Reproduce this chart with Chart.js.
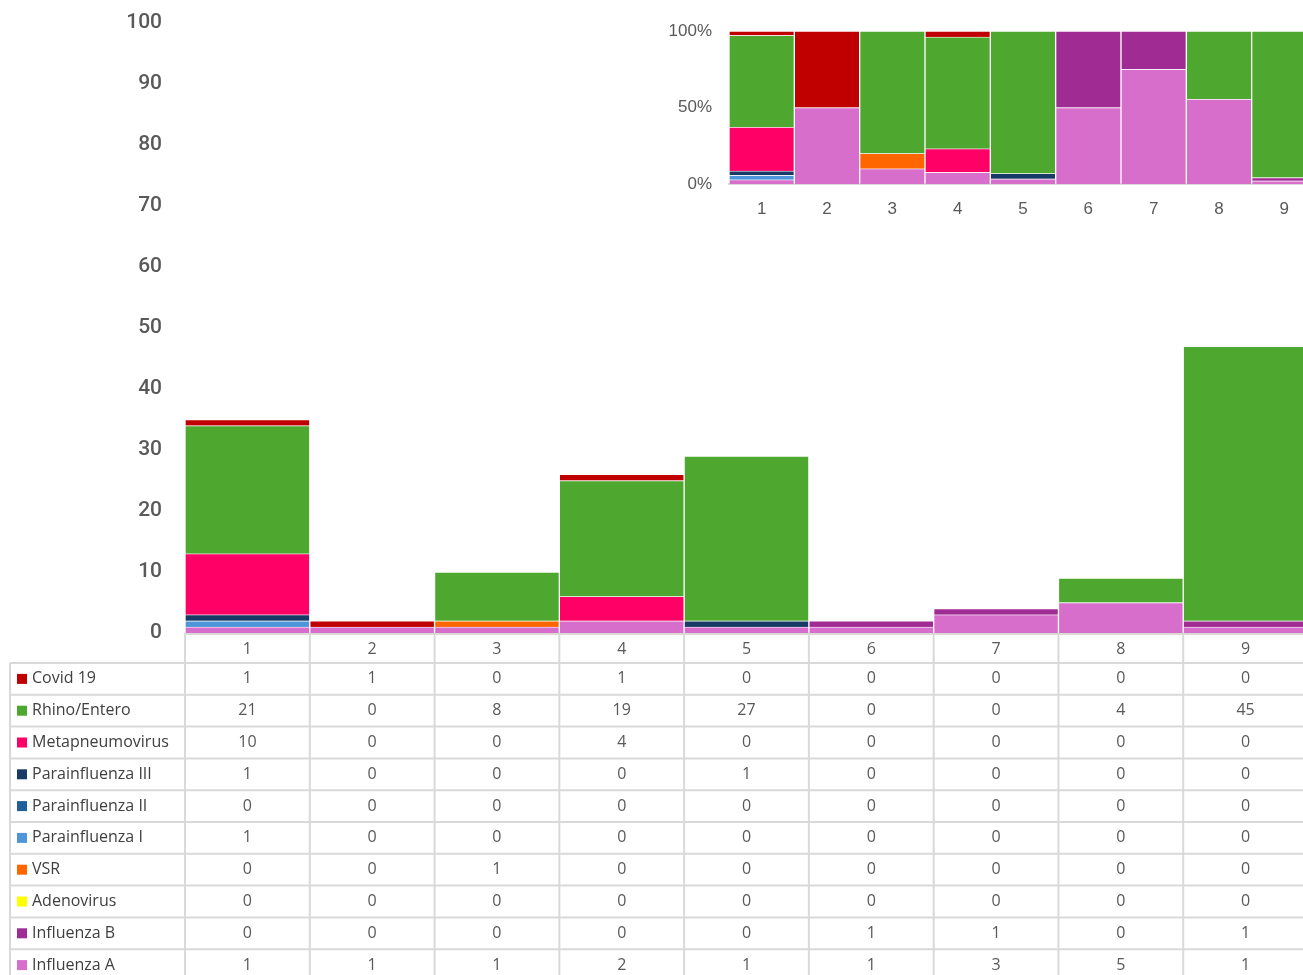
<!DOCTYPE html>
<html>
<head>
<meta charset="utf-8">
<script src="https://cdn.jsdelivr.net/npm/chart.js@4.4.1/dist/chart.umd.min.js"></script>
<style>
  body { margin: 0; background: #fff; }
  #wrap { position: relative; width: 1303px; height: 975px; overflow: hidden; }
  #principal { position: absolute; left: 0; top: 0; }
  #inset { position: absolute; left: 650px; top: 0; }
</style>
</head>
<body>
<div id="wrap">
  <canvas id="principal" width="1308" height="975"></canvas>
  <canvas id="inset" width="667" height="230"></canvas>
</div>
<script>
// categorias (semanas)
const categorias = ['1', '2', '3', '4', '5', '6', '7', '8', '9'];

// series, de abajo hacia arriba en la pila
const influenzaA       = [1, 1, 1, 2, 1, 1, 3, 5, 1];
const influenzaB       = [0, 0, 0, 0, 0, 1, 1, 0, 1];
const adenovirus       = [0, 0, 0, 0, 0, 0, 0, 0, 0];
const vsr              = [0, 0, 1, 0, 0, 0, 0, 0, 0];
const parainfluenzaI   = [1, 0, 0, 0, 0, 0, 0, 0, 0];
const parainfluenzaII  = [0, 0, 0, 0, 0, 0, 0, 0, 0];
const parainfluenzaIII = [1, 0, 0, 0, 1, 0, 0, 0, 0];
const metapneumovirus  = [10, 0, 0, 4, 0, 0, 0, 0, 0];
const rhinoEntero      = [21, 0, 8, 19, 27, 0, 0, 4, 45];
const covid19          = [1, 1, 0, 1, 0, 0, 0, 0, 0];

const ticksY = [0, 10, 20, 30, 40, 50, 60, 70, 80, 90, 100];
const ticksPct = [0, 50, 100];

const series = [
    { label: 'Influenza A',       data: influenzaA,       color: '#D86ECC' },
    { label: 'Influenza B',       data: influenzaB,       color: '#A02B93' },
    { label: 'Adenovirus',        data: adenovirus,       color: '#FFFF00' },
    { label: 'VSR',               data: vsr,              color: '#FF6600' },
    { label: 'Parainfluenza I',   data: parainfluenzaI,   color: '#4E95D9' },
    { label: 'Parainfluenza II',  data: parainfluenzaII,  color: '#215F9A' },
    { label: 'Parainfluenza III', data: parainfluenzaIII, color: '#173B66' },
    { label: 'Metapneumovirus',   data: metapneumovirus,  color: '#FF0066' },
    { label: 'Rhino/Entero',      data: rhinoEntero,      color: '#4EA72E' },
    { label: 'Covid 19',          data: covid19,          color: '#C00000' }
];

const colorLinea = '#d9d9d9';
const colorTexto = '#595959';
const bordeBarra = 'rgba(255,255,255,0.35)';

// tabla de datos debajo del grafico principal
const tablaDatos = {
    id: 'tablaDatos',
    afterDraw(chart) {
        const ctx = chart.ctx;
        const area = chart.chartArea;
        const x = chart.scales.x;
        const anchoCol = (area.right - area.left) / categorias.length;
        const altoCab = 30;
        const altoFila = 31.8;
        const izq = 10;
        const yTabla = area.bottom + altoCab;
        const filas = series.slice().reverse();
        const fondo = chart.height;

        ctx.save();
        ctx.strokeStyle = colorLinea;
        ctx.lineWidth = 2;
        ctx.beginPath();
        // linea del eje
        ctx.moveTo(area.left, area.bottom + 1);
        ctx.lineTo(area.right, area.bottom + 1);
        // verticales de columnas
        for (let i = 0; i <= categorias.length; i++) {
            const xv = area.left + i * anchoCol;
            ctx.moveTo(xv, area.bottom);
            ctx.lineTo(xv, fondo);
        }
        ctx.moveTo(izq, yTabla);
        ctx.lineTo(izq, fondo);
        // horizontales
        for (let r = 0; r <= filas.length; r++) {
            const yh = yTabla + r * altoFila;
            ctx.moveTo(izq, yh);
            ctx.lineTo(area.right, yh);
        }
        ctx.stroke();

        ctx.textBaseline = 'middle';
        ctx.font = '16px "Open Sans", sans-serif';
        ctx.fillStyle = colorTexto;
        ctx.textAlign = 'center';
        categorias.forEach((c, i) => {
            ctx.fillText(c, x.getPixelForValue(i), area.bottom + altoCab / 2 + 1);
        });

        filas.forEach((s, r) => {
            const yc = yTabla + r * altoFila + altoFila / 2;
            ctx.fillStyle = s.color;
            ctx.fillRect(17, yc - 5, 10, 10);
            ctx.fillStyle = '#404040';
            ctx.textAlign = 'left';
            ctx.fillText(s.label, 32, yc);
            ctx.fillStyle = colorTexto;
            ctx.textAlign = 'center';
            s.data.forEach((v, i) => {
                ctx.fillText(String(v), x.getPixelForValue(i), yc);
            });
        });
        ctx.restore();
    }
};

new Chart(document.getElementById('principal'), {
    type: 'bar',
    data: {
        labels: categorias,
        datasets: series.map(s => ({
            label: s.label,
            data: s.data,
            backgroundColor: s.color,
            borderColor: bordeBarra,
            borderWidth: 1,
            barPercentage: 1,
            categoryPercentage: 1
        }))
    },
    options: {
        responsive: false,
        animation: false,
        layout: { padding: { top: 23, right: 0, bottom: 342, left: 0 } },
        plugins: { legend: { display: false }, tooltip: { enabled: false } },
        scales: {
            x: { stacked: true, display: false },
            y: {
                stacked: true,
                min: 0,
                max: 100,
                afterBuildTicks: scale => { scale.ticks = ticksY.map(v => ({ value: v })); },
                afterFit: scale => {
                    scale.width = 185;
                    scale.paddingTop = 0;
                    scale.paddingBottom = 0;
                },
                grid: { display: false, drawTicks: false },
                border: { display: false },
                ticks: {
                    padding: 23,
                    color: colorTexto,
                    font: { family: 'Roboto', size: 21, weight: '500' }
                }
            }
        }
    },
    plugins: [tablaDatos]
});

// grafico pequeño al 100%
const totales = categorias.map((c, i) => series.reduce((acc, s) => acc + s.data[i], 0));

new Chart(document.getElementById('inset'), {
    type: 'bar',
    data: {
        labels: categorias,
        datasets: series.map(s => ({
            label: s.label,
            data: s.data.map((v, i) => totales[i] ? v / totales[i] * 100 : 0),
            backgroundColor: s.color,
            borderColor: bordeBarra,
            borderWidth: 1,
            barPercentage: 1,
            categoryPercentage: 1
        }))
    },
    options: {
        responsive: false,
        animation: false,
        layout: { padding: { top: 31, right: 0, bottom: 0, left: 0 } },
        plugins: { legend: { display: false }, tooltip: { enabled: false } },
        scales: {
            x: {
                stacked: true,
                afterFit: scale => { scale.height = 46; },
                grid: { display: false, drawTicks: false },
                border: { display: true, color: colorLinea, width: 2 },
                ticks: {
                    padding: 15,
                    color: colorTexto,
                    font: { family: '"Liberation Sans", Arial, sans-serif', size: 17 }
                }
            },
            y: {
                stacked: true,
                min: 0,
                max: 100,
                afterBuildTicks: scale => { scale.ticks = ticksPct.map(v => ({ value: v })); },
                afterFit: scale => {
                    scale.width = 79;
                    scale.paddingTop = 0;
                    scale.paddingBottom = 0;
                },
                grid: { display: false, drawTicks: false },
                border: { display: false },
                ticks: {
                    padding: 17,
                    color: colorTexto,
                    callback: v => v + '%',
                    font: { family: '"Liberation Sans", Arial, sans-serif', size: 17 }
                }
            }
        }
    }
});
</script>
</body>
</html>
